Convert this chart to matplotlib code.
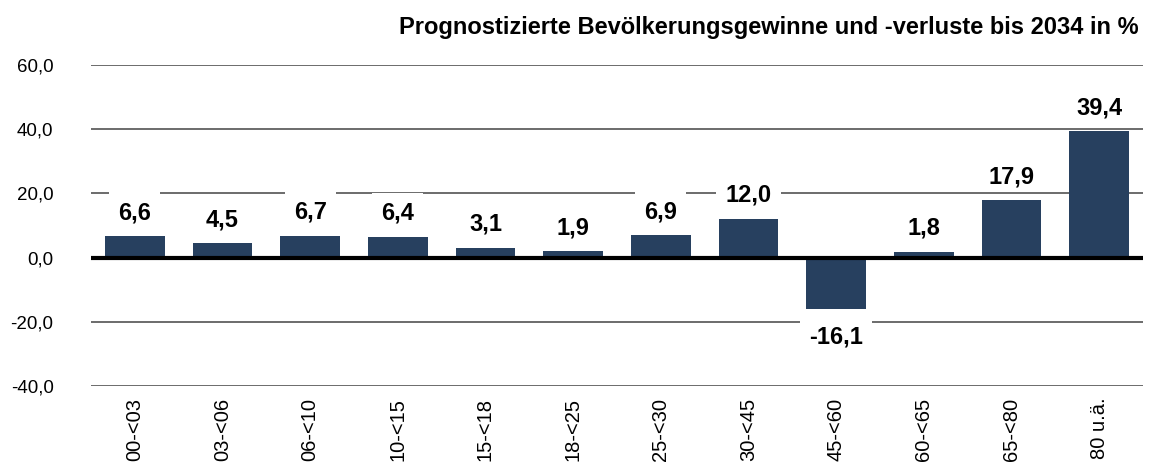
import numpy as np
import matplotlib.pyplot as plt
from matplotlib.path import Path

categories = ["00-<03", "03-<06", "06-<10", "10-<15", "15-<18", "18-<25",
              "25-<30", "30-<45", "45-<60", "60-<65", "65-<80", "80 u.ä."]
values = [6.6, 4.5, 6.7, 6.4, 3.1, 1.9, 6.9, 12.0, -16.1, 1.8, 17.9, 39.4]
yticks = [-40, -20, 0, 20, 40, 60]
title = "Prognostizierte Bevölkerungsgewinne und -verluste bis 2034 in %"


def fmt(v):
    return f"{v:.1f}".replace(".", ",")


def label_box(x0, y0, width, height, mutation_size):
    # white box, a bit more room above the text than below
    side = 0.38 * mutation_size
    top = 0.39 * mutation_size
    bottom = 0.0
    x0, x1 = x0 - side, x0 + width + side
    y0, y1 = y0 - bottom, y0 + height + top
    return Path([(x0, y0), (x1, y0), (x1, y1), (x0, y1), (x0, y0)], closed=True)


def main() -> None:
    plt.rcParams['font.family'] = ['Liberation Sans', 'DejaVu Sans']
    fig = plt.figure(figsize=(11.58, 4.66), dpi=100)
    ax = fig.add_axes([0.0786, 0.1717, 0.9084, 0.6888])

    x = np.arange(len(categories))
    ax.bar(x, values, width=0.68, color="#27405f", zorder=2)

    ax.set_ylim(-40, 60)
    ax.set_xlim(-0.5, len(categories) - 0.5)
    ax.set_yticks(yticks)
    ax.set_yticklabels([fmt(t) for t in yticks], fontsize=13.5)
    ax.set_xticks(x)
    ax.set_xticklabels(categories, rotation=90, fontsize=14.5)
    ax.tick_params(length=0)
    ax.tick_params(axis='x', pad=8.5)
    ax.tick_params(axis='y', pad=27)

    ax.grid(axis='y', color="#444444", linewidth=1.1, zorder=0)
    ax.axhline(0, color="black", linewidth=3, zorder=3)
    for s in ax.spines.values():
        s.set_visible(False)

    for xi, v in zip(x, values):
        off = 17 if v >= 0 else -20
        ax.annotate(fmt(v), (xi, v), xytext=(0, off),
                    textcoords="offset points", ha="center", va="center",
                    fontsize=17, fontweight="bold", zorder=4,
                    bbox=dict(boxstyle=label_box, facecolor="white",
                              edgecolor="none"))

    fig.text(0.983, 0.94, title, ha="right", va="center", fontsize=17,
             fontweight="bold")

    fig.savefig("out.png", dpi=100)


main()
